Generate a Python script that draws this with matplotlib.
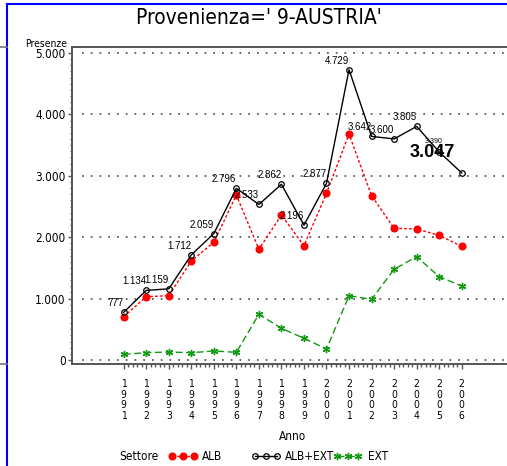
import matplotlib
matplotlib.use('Agg')
import matplotlib.pyplot as plt
from matplotlib import font_manager
from matplotlib.lines import Line2D
import numpy as np

# ---------------- data ----------------
years = list(range(1991, 2007))
year_labels = ['\n'.join(str(y)) for y in years]
alb_ext = [777, 1134, 1159, 1712, 2059, 2796, 2533, 2862, 2196, 2877,
           4729, 3642, 3600, 3805, 3390, 3047]
alb = [705, 1031, 1047, 1612, 1917, 2687, 1803, 2361, 1862, 2714,
       3681, 2676, 2145, 2134, 2030, 1851]
ext = [92, 119, 130, 119, 147, 125, 744, 516, 353, 179,
       1048, 988, 1477, 1683, 1357, 1205]
y_ticks = [0, 1000, 2000, 3000, 4000, 5000]
y_tick_labels = ['0', '1.000', '2.000', '3.000', '4.000', '5.000']
title = "Provenienza=' 9-AUSTRIA'"
series_names = ['ALB', 'ALB+EXT', 'EXT']

# ---------------- fonts ----------------
names = {f.name for f in font_manager.fontManager.ttflist}
if 'Liberation Sans Narrow' in names:
    NARROW = dict(family='Liberation Sans Narrow')
else:
    NARROW = dict(family='DejaVu Sans', stretch='condensed')
LAB = dict(family='Liberation Sans') if 'Liberation Sans' in names else dict(family='DejaVu Sans')

W, H = 507, 466
fig = plt.figure(figsize=(W / 100, H / 100), dpi=100)

def fx(px):
    return px / W

def fy(py):
    return 1 - py / H

# axes geometry (pixels)
ax_left, ax_right, ax_top, ax_bot = 72, 520, 47, 364
ax = fig.add_axes([fx(ax_left), fy(ax_bot), (ax_right - ax_left) / W, (ax_bot - ax_top) / H])
px_per_year = 22.533
x0 = 1991 - (123.7 - ax_left) / px_per_year
ax.set_xlim(x0, x0 + (ax_right - ax_left) / px_per_year)
px_per_unit = 307 / 5000
ax.set_ylim(-(ax_bot - 360) / px_per_unit, 5000 + (53 - ax_top) / px_per_unit)

for s in ['left', 'top', 'bottom']:
    ax.spines[s].set_color('#555555')
    ax.spines[s].set_linewidth(1.4)
ax.spines['right'].set_visible(False)

# dotted reference lines
gx0 = 1991 - (123.7 - 81.7) / px_per_year
ax.hlines(y_ticks, gx0, ax.get_xlim()[1], colors='#666666',
          linestyles=(0, (0.9, 3.6)), linewidth=1.4, zorder=1)

# ticks
ax.set_xticks(years)
ax.set_xticklabels(year_labels, fontsize=7.5, linespacing=1.05, **NARROW)
minor_x = [y + k * 0.2 for y in years[:-1] for k in range(1, 5)]
ax.set_xticks(minor_x, minor=True)
ax.tick_params(axis='x', which='major', direction='out', length=3.6, width=1,
               color='#555555', pad=7.5)
ax.tick_params(axis='x', which='minor', direction='out', length=2.2, width=1,
               color='#555555')
ax.set_yticks(y_ticks)
ax.set_yticklabels(y_tick_labels, fontsize=8.5, **NARROW)
ax.set_yticks([v for v in range(0, 5001, 100) if v % 1000], minor=True)
ax.tick_params(axis='y', which='major', direction='out', length=3, width=1,
               color='#555555', pad=1.5)
ax.tick_params(axis='y', which='minor', direction='out', length=1.6, width=0.8,
               color='#555555')

# series
red, green = '#ff0000', '#119911'
ST_ALB = dict(color=red, ls=(0, (2, 1.5)), lw=1, marker='o', ms=4.8, mfc=red, mec=red)
ST_TOT = dict(color='black', ls='-', lw=1, marker='o', ms=4.0, mfc='none', mec='black', mew=0.9)
ST_EXT = dict(color=green, ls=(0, (5, 2.5)), lw=1, marker=(6, 2, 0), ms=5.2, mec=green, mew=1)
ax.plot(years, alb, zorder=3, clip_on=False, **ST_ALB)
ax.plot(years, alb_ext, zorder=4, clip_on=False, **ST_TOT)
ax.plot(years, ext, zorder=3, clip_on=False, **ST_EXT)

# value labels for ALB+EXT
def fmt(v):
    return f"{v:,}".replace(',', '.')

for i, (x, v) in enumerate(zip(years, alb_ext)):
    if i == len(years) - 1:
        ax.annotate(fmt(v), (x, v), xytext=(-7, 16), textcoords='offset pixels',
                    ha='right', va='baseline', fontsize=13, fontweight='bold', **LAB)
    elif i == len(years) - 2:
        ax.annotate(fmt(v), (x, v), xytext=(3, 7), textcoords='offset pixels',
                    ha='right', va='bottom', fontsize=5, **LAB)
    else:
        ax.annotate(fmt(v), (x, v), xytext=(0, 4), textcoords='offset pixels',
                    ha='right', va='bottom', fontsize=7, **LAB)

# texts
fig.text(fx(259), fy(18), title, ha='center', va='center', fontsize=15, **NARROW)
fig.text(fx(67), fy(44), 'Presenze', ha='right', va='center', fontsize=7.5, **NARROW)
fig.text(fx(293), fy(437), 'Anno', ha='center', va='center', fontsize=8.5, **NARROW)

# legend
ly = 456
fig.text(fx(119), fy(ly), 'Settore', ha='left', va='center', fontsize=8.5, **NARROW)
leg = [(172, 194, 202, ST_ALB), (255, 277, 285, ST_TOT), (337, 358, 368, ST_EXT)]
for (a, b, t, st), name in zip(leg, series_names):
    xs = [fx(a), fx((a + b) / 2), fx(b)]
    fig.add_artist(Line2D(xs, [fy(ly)] * 3, transform=fig.transFigure, **st))
    fig.text(fx(t), fy(ly), name, ha='left', va='center', fontsize=8.5, **NARROW)

# frame lines of the page
fig.add_artist(Line2D([fx(7), fx(7)], [fy(4), 0], transform=fig.transFigure,
                      color='#0000ff', lw=1.5))
fig.add_artist(Line2D([fx(7), 1], [fy(4), fy(4)], transform=fig.transFigure,
                      color='#0000ff', lw=1.5))
for yy in (47, 364):
    fig.add_artist(Line2D([0, fx(7)], [fy(yy), fy(yy)], transform=fig.transFigure,
                          color='#777777', lw=1.2))

fig.savefig('out.png', dpi=100)
